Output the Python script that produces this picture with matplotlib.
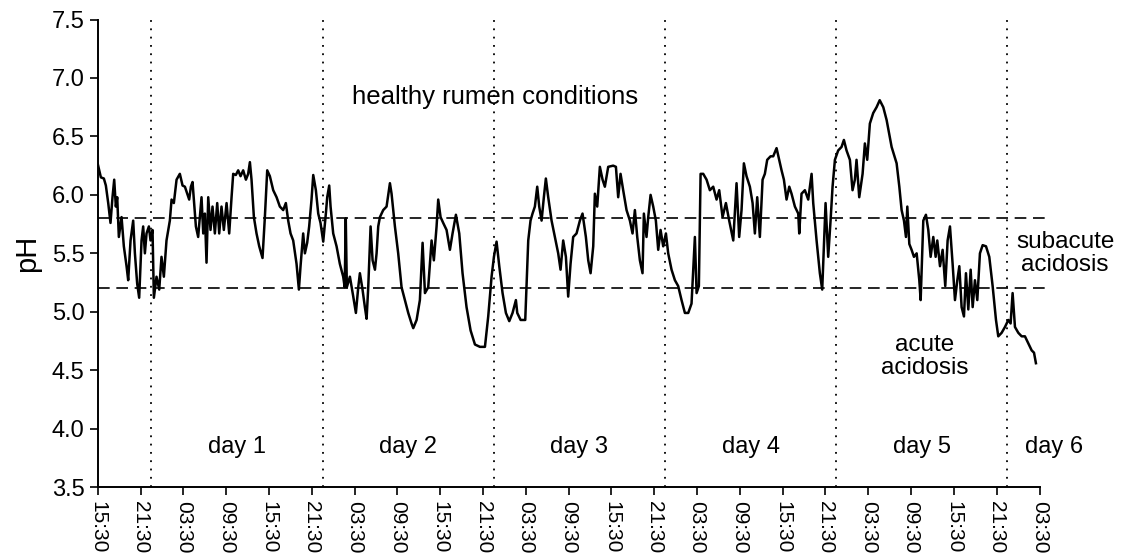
import matplotlib
matplotlib.use("Agg")
import matplotlib.pyplot as plt
import numpy as np

plt.rcParams["font.family"] = ["Liberation Sans", "DejaVu Sans"]

# hours since 15:30 on the first day, rumen pH
hours = [
    0.00, 0.42, 0.84, 1.12, 1.45, 1.77, 2.05, 2.29, 2.52, 2.71,
    2.94, 3.32, 3.64, 4.02, 4.25, 4.58, 4.95, 5.19, 5.51, 5.79,
    6.12, 6.35, 6.59, 6.82, 7.15, 7.38, 7.66, 7.85, 8.22, 8.60,
    8.92, 9.25, 9.62, 10.09, 10.33, 10.65, 11.03, 11.49, 11.87, 12.20,
    12.52, 12.80, 13.04, 13.27, 13.46, 13.74, 14.06, 14.30, 14.53, 14.77,
    15.00, 15.23, 15.47, 15.79, 16.07, 16.40, 16.73, 17.01, 17.33, 17.66,
    18.04, 18.41, 18.74, 18.97, 19.34, 19.67, 20.00, 20.37, 20.75, 21.07,
    21.31, 21.54, 21.87, 22.24, 22.62, 23.08, 23.41, 23.74, 24.11, 24.58,
    25.05, 25.51, 25.98, 26.35, 26.68, 27.01, 27.38, 27.85, 28.18, 28.41,
    28.78, 29.02, 29.34, 29.62, 29.95, 30.19, 30.56, 30.89, 31.21, 31.59,
    31.96, 32.15, 32.43, 32.62, 32.99, 33.46, 33.92, 34.39, 34.60, 34.75,
    34.90, 35.33, 35.80, 36.17, 36.50, 36.73, 37.10, 37.43, 37.67, 37.90,
    38.23, 38.51, 38.84, 39.07, 39.30, 39.54, 40.00, 40.47, 40.94, 41.17,
    41.64, 42.10, 42.57, 43.04, 43.51, 43.97, 44.21, 44.68, 45.14, 45.52,
    45.85, 46.31, 46.78, 47.10, 47.48, 47.71, 48.04, 48.41, 48.88, 49.35,
    49.72, 50.19, 50.66, 51.12, 51.68, 52.25, 52.86, 53.56, 54.26, 54.72,
    55.19, 55.52, 55.89, 56.27, 56.73, 57.20, 57.67, 58.13, 58.60, 58.79,
    59.26, 59.91, 60.33, 60.65, 60.93, 61.26, 61.59, 61.87, 62.20, 62.52,
    62.80, 63.13, 63.60, 64.06, 64.53, 64.86, 65.23, 65.61, 65.93, 66.26,
    66.63, 67.10, 67.57, 67.94, 68.41, 68.74, 69.07, 69.44, 69.67, 70.00,
    70.37, 70.75, 71.07, 71.54, 72.24, 72.62, 72.94, 73.27, 73.64, 74.11,
    74.58, 74.95, 75.28, 75.61, 75.98, 76.35, 76.54, 76.91, 77.15, 77.48,
    77.85, 78.22, 78.55, 78.88, 79.25, 79.63, 79.95, 80.42, 80.89, 81.35,
    81.82, 82.29, 82.76, 83.22, 83.69, 83.93, 84.25, 84.49, 84.86, 85.33,
    85.79, 86.26, 86.73, 87.10, 87.57, 88.04, 88.50, 89.07, 89.53, 89.90,
    90.23, 90.56, 90.93, 91.40, 91.78, 92.10, 92.43, 92.80, 93.18, 93.50,
    93.83, 94.30, 94.67, 95.14, 95.51, 95.84, 96.17, 96.54, 96.92, 97.24,
    97.71, 98.18, 98.32, 98.64, 99.11, 99.58, 100.05, 100.28, 100.75, 101.21,
    101.54, 101.77, 102.01, 102.38, 102.71, 102.99, 103.32, 103.78, 104.25, 104.58,
    104.95, 105.42, 105.79, 106.12, 106.35, 106.73, 107.20, 107.52, 107.85, 108.22,
    108.69, 109.16, 109.60, 110.10, 110.57, 111.27, 111.97, 112.35, 112.67, 113.00,
    113.28, 113.47, 113.75, 114.07, 114.40, 114.78, 115.15, 115.34, 115.71, 116.08,
    116.41, 116.74, 117.11, 117.44, 117.67, 118.05, 118.42, 118.79, 119.12, 119.45,
    119.82, 120.15, 120.48, 120.76, 121.08, 121.41, 121.69, 122.02, 122.35, 122.63,
    122.95, 123.28, 123.65, 124.03, 124.50, 124.96, 125.43, 125.90, 126.22, 126.69,
    127.16, 127.63, 127.95, 128.23, 128.56, 129.03, 129.50, 129.96, 130.43, 130.90,
    131.23, 131.50,
]
ph = [
    6.26, 6.15, 6.14, 6.08, 5.93, 5.76, 5.98, 6.13, 5.90, 5.98,
    5.64, 5.81, 5.56, 5.39, 5.27, 5.61, 5.78, 5.50, 5.24, 5.12,
    5.61, 5.73, 5.50, 5.67, 5.73, 5.61, 5.70, 5.12, 5.30, 5.19,
    5.47, 5.30, 5.61, 5.78, 5.96, 5.93, 6.13, 6.18, 6.08, 6.07,
    6.01, 5.96, 6.07, 6.11, 5.96, 5.73, 5.64, 5.81, 5.98, 5.67,
    5.84, 5.42, 5.98, 5.70, 5.90, 5.67, 5.93, 5.67, 5.90, 5.70,
    5.93, 5.67, 5.98, 6.18, 6.17, 6.21, 6.16, 6.21, 6.13, 6.18,
    6.28, 6.13, 5.81, 5.67, 5.56, 5.46, 5.81, 6.21, 6.16, 6.04,
    5.98, 5.90, 5.87, 5.93, 5.78, 5.67, 5.61, 5.41, 5.19, 5.39,
    5.67, 5.50, 5.59, 5.73, 5.96, 6.17, 6.04, 5.84, 5.76, 5.60,
    5.84, 5.98, 6.08, 5.90, 5.67, 5.56, 5.41, 5.30, 5.21, 5.80,
    5.21, 5.30, 5.13, 4.99, 5.21, 5.33, 5.19, 5.04, 4.94, 5.21,
    5.73, 5.44, 5.36, 5.50, 5.73, 5.81, 5.87, 5.90, 6.10, 6.01,
    5.73, 5.50, 5.21, 5.10, 4.99, 4.90, 4.86, 4.93, 5.10, 5.59,
    5.16, 5.21, 5.61, 5.44, 5.73, 5.96, 5.81, 5.76, 5.70, 5.53,
    5.67, 5.83, 5.67, 5.33, 5.04, 4.84, 4.72, 4.70, 4.70, 4.96,
    5.30, 5.47, 5.60, 5.39, 5.16, 4.99, 4.92, 4.99, 5.10, 4.99,
    4.93, 4.93, 5.61, 5.78, 5.84, 5.90, 6.07, 5.90, 5.78, 5.98,
    6.14, 5.98, 5.78, 5.64, 5.50, 5.36, 5.61, 5.47, 5.13, 5.41,
    5.64, 5.67, 5.78, 5.84, 5.64, 5.44, 5.33, 5.56, 6.01, 5.90,
    6.24, 6.13, 6.07, 6.24, 6.25, 6.24, 5.98, 6.18, 6.04, 5.87,
    5.78, 5.67, 5.87, 5.64, 5.44, 5.33, 5.84, 5.64, 5.81, 6.00,
    5.90, 5.78, 5.53, 5.70, 5.56, 5.67, 5.50, 5.36, 5.27, 5.22,
    5.10, 4.99, 4.99, 5.07, 5.64, 5.16, 5.22, 6.18, 6.18, 6.13,
    6.04, 6.07, 5.96, 6.04, 5.81, 5.93, 5.78, 5.61, 6.10, 5.64,
    5.87, 6.27, 6.16, 6.07, 5.93, 5.67, 5.98, 5.64, 6.13, 6.18,
    6.30, 6.33, 6.33, 6.40, 6.30, 6.21, 6.13, 5.96, 6.07, 6.01,
    5.90, 5.84, 5.67, 6.01, 6.04, 5.96, 6.18, 5.93, 5.61, 5.33,
    5.19, 5.56, 5.93, 5.47, 5.78, 6.07, 6.30, 6.38, 6.41, 6.47,
    6.38, 6.30, 6.04, 6.13, 6.30, 5.98, 6.18, 6.44, 6.30, 6.61,
    6.70, 6.75, 6.81, 6.75, 6.64, 6.41, 6.27, 6.07, 5.87, 5.78,
    5.64, 5.90, 5.58, 5.53, 5.47, 5.50, 5.27, 5.10, 5.78, 5.83,
    5.70, 5.47, 5.64, 5.47, 5.61, 5.39, 5.53, 5.22, 5.61, 5.73,
    5.41, 5.10, 5.27, 5.39, 5.04, 4.96, 5.33, 5.02, 5.36, 5.04,
    5.27, 5.10, 5.50, 5.57, 5.56, 5.47, 5.22, 4.93, 4.79, 4.82,
    4.87, 4.93, 4.90, 5.16, 4.87, 4.82, 4.79, 4.79, 4.73, 4.67,
    4.65, 4.56,
]

thresholds = [5.8, 5.2]
day_starts = [7.5, 31.5, 55.5, 79.5, 103.5, 127.5]
day_labels = ["day 1", "day 2", "day 3", "day 4", "day 5", "day 6"]
day_label_x = [19.5, 43.5, 67.5, 91.5, 115.5, 134.0]
tick_times = ["15:30", "21:30", "03:30", "09:30"]

fig = plt.figure(figsize=(11.25, 5.58), dpi=100)
ax = fig.add_axes([0.087, 0.127, 0.837, 0.838])

ax.plot(hours, ph, color="black", lw=1.8, zorder=3)

for t in thresholds:
    ax.plot([0, 133.5], [t, t], color="black", lw=1.2,
            linestyle=(0, (7, 4)), clip_on=False)
for d in day_starts:
    ax.axvline(d, color="black", lw=1.3, linestyle=(0, (1, 3.6)))

ax.set_xlim(0, 132)
ax.set_ylim(3.5, 7.5)
xt = np.arange(0, 133, 6)
ax.set_xticks(xt)
ax.set_xticklabels([tick_times[i % 4] for i in range(len(xt))],
                   rotation=-90, fontsize=15)
ax.set_yticks(np.arange(3.5, 7.51, 0.5))
ax.set_yticklabels(["%.1f" % v for v in np.arange(3.5, 7.51, 0.5)], fontsize=17)
ax.tick_params(direction="out", length=6, width=1.2, color="black")
ax.tick_params(axis="x", pad=4)
ax.spines["top"].set_visible(False)
ax.spines["right"].set_visible(False)
for s in ["left", "bottom"]:
    ax.spines[s].set_linewidth(1.4)
ax.set_ylabel("pH", fontsize=21, labelpad=8)

ax.text(55.7, 6.84, "healthy rumen conditions", fontsize=18.5,
        ha="center", va="center")
for lab, x in zip(day_labels, day_label_x):
    ax.text(x, 3.84, lab, fontsize=17, ha="center", va="center", clip_on=False)
ax.text(135.6, 5.5, "subacute\nacidosis", fontsize=17.5, ha="center",
        va="center", linespacing=1.05, clip_on=False)
ax.text(115.9, 4.62, "acute\nacidosis", fontsize=17.5, ha="center",
        va="center", linespacing=1.05)

fig.savefig("out.png", dpi=100)
